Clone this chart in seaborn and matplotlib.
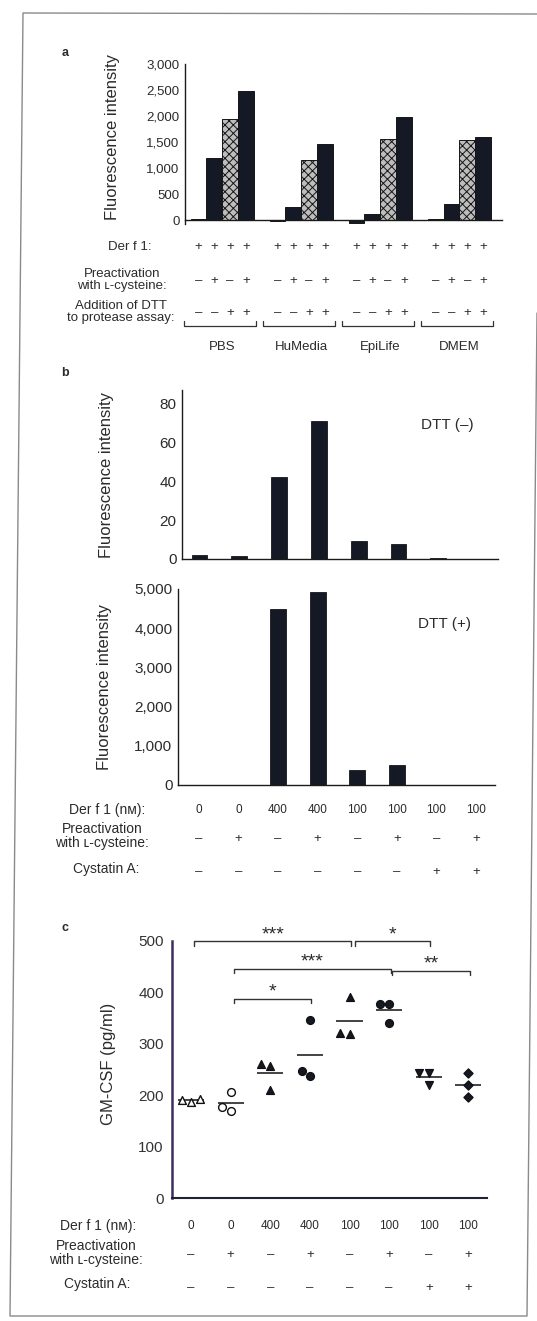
import numpy as np
import pandas as pd
import matplotlib
matplotlib.use("Agg")
import matplotlib.pyplot as plt
import matplotlib.transforms as mtransforms
from matplotlib.lines import Line2D
import seaborn as sns

# ---------------- data ----------------
# panel a
media = ["PBS", "HuMedia", "EpiLife", "DMEM"]
a_conditions = ["no preact / no DTT", "preact / no DTT", "no preact / DTT", "preact / DTT"]
a_derf1 = ["+", "+", "+", "+"]
a_preact = ["–", "+", "–", "+"]
a_dtt = ["–", "–", "+", "+"]
a_pbs = [20, 1200, 1950, 2480]
a_humedia = [-10, 250, 1150, 1460]
a_epilife = [-60, 120, 1550, 1980]
a_dmem = [15, 300, 1530, 1590]
a_yticks = [0, 500, 1000, 1500, 2000, 2500, 3000]

# panel b
b_derf1 = ["0", "0", "400", "400", "100", "100", "100", "100"]
b_preact = ["–", "+", "–", "+", "–", "+", "–", "+"]
b_cystatin = ["–", "–", "–", "–", "–", "–", "+", "+"]
b_dtt_minus = [2.0, 1.5, 42, 71, 9.2, 7.7, 0.5, 0]
b_dtt_plus = [0, 0, 4480, 4920, 380, 510, 0, 0]
b1_yticks = [0, 20, 40, 60, 80]
b2_yticks = [0, 1000, 2000, 3000, 4000, 5000]

# panel c (GM-CSF, pg/ml, triplicates)
c_g0 = [193, 190, 187]
c_g1 = [206, 178, 169]
c_g2 = [260, 256, 211]
c_g3 = [347, 238, 248]
c_g4 = [392, 321, 320]
c_g5 = [377, 377, 341]
c_g6 = [244, 243, 219]
c_g7 = [244, 219, 197]
c_yticks = [0, 100, 200, 300, 400, 500]
c_sig = [(0, 4, 500, "***"), (4, 6, 500, "*"), (1, 5, 446, "***"),
         (5, 7, 442, "**"), (1, 3, 388, "*")]

# ---------------- style ----------------
sns.set_style("white")
plt.rcParams["font.family"] = ["Liberation Sans", "DejaVu Sans"]
plt.rcParams["hatch.color"] = "#444444"
plt.rcParams["hatch.linewidth"] = 0.7
TXT = "#2b2b2b"
DARK = "#151925"

W, H = 537, 1321
fig = plt.figure(figsize=(W / 100, H / 100), dpi=100)
fig.patch.set_facecolor("white")


def axes_px(l, t, r, b):
    return fig.add_axes([l / W, 1 - b / H, (r - l) / W, (b - t) / H])


def fy(ypx):
    return 1 - ypx / H


def row(ax, xs, ypx, labels, size):
    tr = mtransforms.blended_transform_factory(ax.transData, fig.transFigure)
    for x, s in zip(xs, labels):
        ax.text(x, fy(ypx), s, transform=tr, ha="center", va="center",
                fontsize=size, color=TXT, clip_on=False)


def row_label(xpx, ypx, s, size):
    fig.text(xpx / W, fy(ypx), s, ha="center", va="center", fontsize=size,
             color=TXT, multialignment="center", linespacing=1.0)


def style_axis(ax, yticks, fmt, size, lw=1.0, col="#1a1a1a"):
    for s in ["top", "right"]:
        ax.spines[s].set_visible(False)
    for s in ["left", "bottom"]:
        ax.spines[s].set_linewidth(lw)
        ax.spines[s].set_color(col)
    ax.set_yticks(yticks)
    ax.set_yticklabels([fmt(v) for v in yticks], fontsize=size, color=TXT)
    ax.tick_params(axis="y", direction="inout", length=4, width=0.9, pad=2, colors=col)
    ax.tick_params(axis="y", labelcolor=TXT)
    ax.set_xlabel("")
    ax.set_facecolor("none")


def ylabel_at(ax, text, xpx, left_px, width_px, ycoord=0.5):
    # xpx is the desired centre of the rotated label (pixels)
    ax.set_ylabel(text, fontsize=12, color=TXT)
    ax.yaxis.set_label_coords((xpx + 8.5 - left_px) / width_px, ycoord)


comma = lambda v: f"{v:,}"

# ---------------- panel a ----------------
ax_a = axes_px(185, 64, 502, 224.2)
df_a = pd.DataFrame({
    "medium": np.repeat(media, 4),
    "cond": a_conditions * 4,
    "value": a_pbs + a_humedia + a_epilife + a_dmem,
})
pal_a = {a_conditions[0]: DARK, a_conditions[1]: DARK,
         a_conditions[2]: "#bdbdbd", a_conditions[3]: DARK}
sns.barplot(data=df_a, x="medium", y="value", hue="cond", order=media,
            hue_order=a_conditions, palette=pal_a, width=0.8, edgecolor="#161616",
            linewidth=0.7, saturation=1, legend=False, ax=ax_a)
for p in ax_a.containers[2]:
    p.set_hatch("xxxx")
ax_a.set_ylim(-80, 3000)
ax_a.set_xlim(-0.47, 3.54)
ax_a.spines["bottom"].set_position(("data", 0))
style_axis(ax_a, a_yticks, comma, 9.5)
ax_a.set_xticks([0.5, 1.5, 2.5])
ax_a.set_xticklabels([])
ax_a.tick_params(axis="x", direction="inout", length=4, width=0.8)
ylabel_at(ax_a, "Fluorescence intensity", 112, 185, 317, (224.2 - 137) / 160.2)

bar_x = [g + (k - 1.5) * 0.2 for g in range(4) for k in range(4)]
row(ax_a, bar_x, 247, a_derf1 * 4, 9.5)
row(ax_a, bar_x, 281, a_preact * 4, 9.5)
row(ax_a, bar_x, 313, a_dtt * 4, 9.5)
row_label(130, 247, "Der f 1:", 9.5)
row_label(122, 280, "Preactivation\nwith ʟ-cysteine:", 9.5)
row_label(121, 312, "Addition of DTT\nto protease assay:", 9.5)
tr_a = mtransforms.blended_transform_factory(ax_a.transData, fig.transFigure)
for g, name in enumerate(media):
    x0, x1 = g - 0.48, g + 0.43
    ax_a.plot([x0, x0, x1, x1], [fy(321), fy(325.5), fy(325.5), fy(321)],
              transform=tr_a, color="#333333", lw=0.9, clip_on=False)
    ax_a.text(g, fy(347), name, transform=tr_a, ha="center", va="center",
              fontsize=9.5, color=TXT)
fig.text(65 / W, fy(53), "a", fontsize=9, fontweight="bold", color=TXT,
         ha="center", va="center")

# ---------------- panel b ----------------
b_keys = [f"{d}|{p}|{c}|{i}" for i, (d, p, c) in
          enumerate(zip(b_derf1, b_preact, b_cystatin))]

ax_b1 = axes_px(182, 390, 498, 559)
sns.barplot(x=b_keys, y=b_dtt_minus, order=b_keys, color=DARK, saturation=1,
            width=0.4, edgecolor="#161616", linewidth=0.6, ax=ax_b1)
ax_b1.set_ylim(0, 86.7)
ax_b1.set_xlim(-0.44, 7.5)
style_axis(ax_b1, b1_yticks, str, 11)
ax_b1.set_xticks(np.arange(7) + 0.5)
ax_b1.set_xticklabels([])
ax_b1.tick_params(axis="x", direction="inout", length=4, width=0.8)
ylabel_at(ax_b1, "Fluorescence intensity", 105, 182, 316)
ax_b1.text(0.84, 0.79, "DTT (–)", transform=ax_b1.transAxes, ha="center",
           va="center", fontsize=11, color=TXT)

ax_b2 = axes_px(178, 589, 495, 785)
sns.barplot(x=b_keys, y=b_dtt_plus, order=b_keys, color=DARK, saturation=1,
            width=0.4, edgecolor="#161616", linewidth=0.6, ax=ax_b2)
ax_b2.set_ylim(0, 5000)
ax_b2.set_xlim(-0.525, 7.48)
style_axis(ax_b2, b2_yticks, comma, 11)
ax_b2.set_xticks(np.arange(7) + 0.5)
ax_b2.set_xticklabels([])
ax_b2.tick_params(axis="x", direction="inout", length=4, width=0.8)
ylabel_at(ax_b2, "Fluorescence intensity", 103, 178, 317)
ax_b2.text(0.84, 0.82, "DTT (+)", transform=ax_b2.transAxes, ha="center",
           va="center", fontsize=11, color=TXT)

xs8 = np.arange(8)
row(ax_b2, xs8, 810, b_derf1, 8.5)
row(ax_b2, xs8, 839, b_preact, 9.5)
row(ax_b2, xs8, 872, b_cystatin, 9.5)
row_label(107, 810, "Der f 1 (nᴍ):", 10)
row_label(102, 836, "Preactivation\nwith ʟ-cysteine:", 10)
row_label(106, 869, "Cystatin A:", 10)
fig.text(65 / W, fy(373), "b", fontsize=9, fontweight="bold", color=TXT,
         ha="center", va="center")

# ---------------- panel c ----------------
groups_c = [c_g0, c_g1, c_g2, c_g3, c_g4, c_g5, c_g6, c_g7]
c_keys = b_keys
df_c = pd.DataFrame({
    "cond": np.repeat(c_keys, 3),
    "value": np.concatenate(groups_c),
})
# marker style per condition: (marker, face)
c_styles = [("^", "white"), ("o", "white"), ("^", DARK), ("o", DARK),
            ("^", DARK), ("o", DARK), ("v", DARK), ("D", DARK)]

ax_c = axes_px(172, 941, 487, 1198)
for i, (mk, fc) in enumerate(c_styles):
    sub = df_c[df_c["cond"] == c_keys[i]]
    sns.swarmplot(data=sub, x="cond", y="value", order=c_keys, marker=mk,
                  color=fc, edgecolor="#111111", linewidth=1.0,
                  size=5.6 if mk != "D" else 4.6, ax=ax_c)
means = [np.mean(g) for g in groups_c]
ax_c.hlines(means, xs8 - 0.33, xs8 + 0.33, color="#111111", lw=1.1)
ax_c.set_ylim(0, 500)
ax_c.set_xlim(-0.48, 7.47)
style_axis(ax_c, c_yticks, str, 11)
ax_c.spines["left"].set_color("#3c2d5e")
ax_c.spines["left"].set_linewidth(1.8)
ax_c.spines["bottom"].set_color("#1f2233")
ax_c.spines["bottom"].set_linewidth(1.5)
ax_c.tick_params(axis="y", direction="out", length=4, width=1.0, colors="#333333")
ax_c.set_xticks(xs8)
ax_c.set_xticklabels([])
ax_c.tick_params(axis="x", direction="out", length=3, width=1.0, colors="#333333")
ylabel_at(ax_c, "GM-CSF (pg/ml)", 107, 172, 315, 0.52)

ends = {(j, y) for (_, j, y, _) in c_sig}
for i, j, y, lab in c_sig:
    x0 = i + (0.14 if (i, y) in ends else 0.08)
    x1 = j + 0.04
    ax_c.plot([x0, x0, x1, x1], [y - 9, y, y, y - 9], color="#333333", lw=1.0,
              clip_on=False)
    ax_c.text((x0 + x1) / 2, y - 4, lab, ha="center", va="bottom",
              fontsize=14, color=TXT, clip_on=False)

row(ax_c, xs8, 1226, b_derf1, 8.5)
row(ax_c, xs8, 1255, b_preact, 9.5)
row(ax_c, xs8, 1288, b_cystatin, 9.5)
row_label(98, 1226, "Der f 1 (nᴍ):", 10)
row_label(96, 1253, "Preactivation\nwith ʟ-cysteine:", 10)
row_label(97, 1284, "Cystatin A:", 10)
fig.text(65 / W, fy(928), "c", fontsize=9, fontweight="bold", color=TXT,
         ha="center", va="center")

# ---------------- frame of the figure box ----------------
frame_x = [537, 23, 10, 527, 537]
frame_y = [14, 13, 1316, 1316, 313]
fig.add_artist(Line2D([x / W for x in frame_x], [fy(y) for y in frame_y],
                      transform=fig.transFigure, color="#8a8a8a", lw=1.0))

fig.savefig("out.png", dpi=100, facecolor="white")
